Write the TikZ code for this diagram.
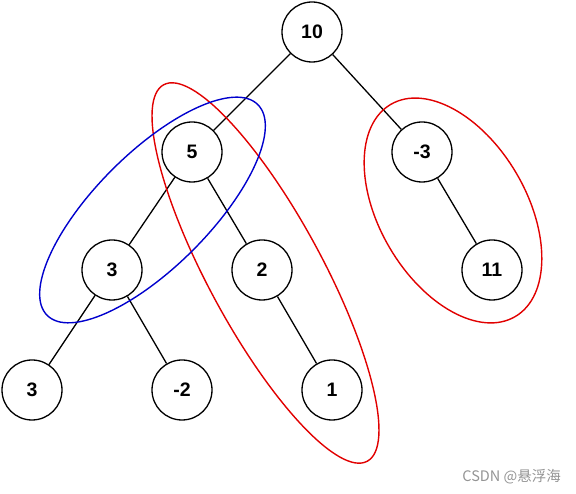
\documentclass[tikz,border=0pt]{standalone}
\usepackage{fontspec}
\setmainfont{Liberation Sans}
\newfontfamily\cjk{Noto Sans CJK SC}
\definecolor{ringred}{RGB}{225,0,0}
\definecolor{ringblue}{RGB}{0,0,205}
\begin{document}
\begin{tikzpicture}[x=1pt,y=1pt,
  tnode/.style={circle,draw=black,line width=1.3pt,minimum size=60pt,inner sep=0pt,fill=white,font=\fontsize{19.5}{20}\selectfont\bfseries},
  edge/.style={draw=black,line width=1.3pt},
  ring/.style={line width=1.4pt}]
\useasboundingbox (0,0) rectangle (576,494);
\node[tnode] (n10) at (312,462) {10};
\node[tnode] (n5) at (192,342) {5};
\node[tnode] (nm3) at (422,342) {-3};
\node[tnode] (n3a) at (112,224) {3};
\node[tnode] (n2) at (262,224) {2};
\node[tnode] (n11) at (492,224) {11};
\node[tnode] (n3b) at (32,104) {3};
\node[tnode] (nm2) at (182,104) {-2};
\node[tnode] (n1) at (332,104) {1};
\draw[edge] (n10) -- (n5);
\draw[edge] (n10) -- (nm3);
\draw[edge] (n5) -- (n3a);
\draw[edge] (n5) -- (n2);
\draw[edge] (nm3) -- (n11);
\draw[edge] (n3a) -- (n3b);
\draw[edge] (n3a) -- (nm2);
\draw[edge] (n2) -- (n1);
\coordinate (c1) at (265.5,221);
\coordinate (c2) at (152.5,284);
\coordinate (c3) at (453,283.5);
\draw[ring,ringred,rotate around={-61.6:(c1)}] (c1) ellipse [x radius=214, y radius=57];
\draw[ring,ringblue,rotate around={45:(c2)}] (c2) ellipse [x radius=149, y radius=57];
\draw[ring,ringred,rotate around={-59.6:(c3)}] (c3) ellipse [x radius=123, y radius=73.5];
\node[anchor=east,text=black!42,font=\cjk\fontsize{14.5}{15}\selectfont,inner sep=0pt] (wm) at (561,17) {CSDN @悬浮海};
\end{tikzpicture}
\end{document}
